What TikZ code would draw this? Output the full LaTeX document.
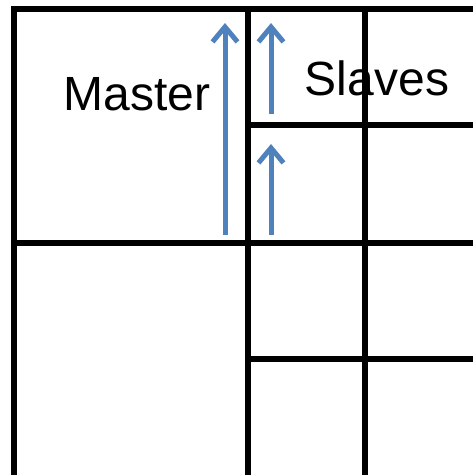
\documentclass[tikz,border=0pt]{standalone}
\usepackage{fontspec}
\setmainfont{Liberation Sans}
\usetikzlibrary{arrows.meta}
\definecolor{SyncBlue}{HTML}{4F81BD}
\tikzset{
  cellline/.style={line width=5.5pt,draw=black},
  syncarrow/.style={-{Straight Barb[length=15pt,width=25pt]},line width=5pt,draw=SyncBlue},
  bigtext/.style={font=\fontsize{48}{56}\selectfont,anchor=base,inner sep=0pt}
}
\begin{document}
\begin{tikzpicture}[x=1pt,y=-1pt]
\useasboundingbox (0,0) rectangle (473,475);
% labels
\node[bigtext] (master) at (137,110) {Master};
\node[bigtext] (slaves) at (377,95) {Slaves};
% grid
\draw[cellline] (14,476) -- (14,9) -- (476,9);
\draw[cellline] (14,243) -- (476,243);
\draw[cellline] (248,9) -- (248,476);
\draw[cellline] (365,9) -- (365,476);
\draw[cellline] (248,125) -- (476,125);
\draw[cellline] (248,359) -- (476,359);
% arrows
\coordinate (mfrom) at (225,235);
\coordinate (mto) at (225,23);
\coordinate (sfrom) at (271,114);
\coordinate (sto) at (271,23);
\coordinate (tfrom) at (271,235);
\coordinate (tto) at (271,144);
\draw[syncarrow] (mfrom) -- (mto);
\draw[syncarrow] (sfrom) -- (sto);
\draw[syncarrow] (tfrom) -- (tto);
\end{tikzpicture}
\end{document}
